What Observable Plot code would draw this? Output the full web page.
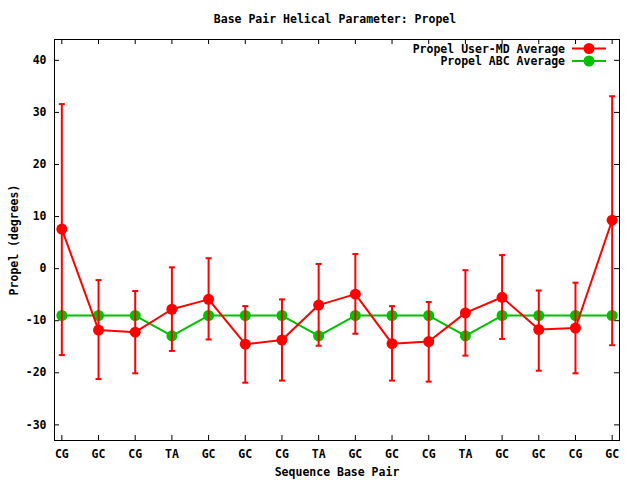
<!DOCTYPE html>
<html>
<head>
<meta charset="utf-8">
<script src="https://cdn.jsdelivr.net/npm/d3@7"></script>
<script src="https://cdn.jsdelivr.net/npm/@observablehq/plot@0.6"></script>
<style>
  html, body { margin: 0; padding: 0; background: #fff; }
  #chart { width: 640px; height: 480px; }
</style>
</head>
<body>
<div id="chart"></div>
<script>
const basePairs = ["CG","GC","CG","TA","GC","GC","CG","TA","GC","GC","CG","TA","GC","GC","CG","GC"];
const userMean = [7.6, -11.8, -12.2, -7.8, -5.9, -14.5, -13.7, -7.0, -4.9, -14.4, -14.0, -8.5, -5.5, -11.7, -11.4, 9.3];
const userHigh = [31.6, -2.2, -4.3, 0.25, 2.0, -7.2, -5.9, 0.9, 2.8, -7.2, -6.4, -0.3, 2.6, -4.2, -2.7, 33.1];
const userLow  = [-16.6, -21.2, -20.1, -15.8, -13.6, -21.9, -21.5, -14.8, -12.5, -21.5, -21.7, -16.7, -13.5, -19.6, -20.1, -14.7];
const abcMean  = [-9, -9, -9, -12.9, -9, -9, -9, -12.9, -9, -9, -9, -12.9, -9, -9, -9, -9];
const yTicks = [-30, -20, -10, 0, 10, 20, 30, 40];
const seriesNames = ["Propel User-MD Average", "Propel ABC Average"];
const seriesColors = ["#ff0000", "#00c000"];

const user = basePairs.map((bp, i) => ({i, bp, y: userMean[i], hi: userHigh[i], lo: userLow[i]}));
const abc = basePairs.map((bp, i) => ({i, bp, y: abcMean[i]}));
const xIdx = basePairs.map((_, i) => i);

const xMin = -0.2, xMax = 15.2, yMin = -33, yMax = 44;
const font = "'DejaVu Sans Mono', monospace";
const W = 640, H = 480, mL = 54, mR = 21, mT = 39, mB = 40;
const pxX = (xMax - xMin) / (W - mL - mR);
const pxY = (yMax - yMin) / (H - mT - mB);
const tk = 5;

const chart = Plot.plot({
  width: W, height: H,
  marginLeft: mL, marginRight: mR, marginTop: mT, marginBottom: mB,
  style: {fontFamily: font, fontSize: "11.5px", fontWeight: "bold", background: "#fff", color: "#000"},
  x: {domain: [xMin, xMax], axis: null},
  y: {domain: [yMin, yMax], axis: null},
  marks: [
    Plot.frame({stroke: "#000", strokeWidth: 1}),
    // inward ticks
    Plot.ruleY(yTicks, {y: d => d, x1: xMin, x2: xMin + tk * pxX, stroke: "#000"}),
    Plot.ruleY(yTicks, {y: d => d, x1: xMax - tk * pxX, x2: xMax, stroke: "#000"}),
    Plot.ruleX(xIdx, {x: d => d, y1: yMin, y2: yMin + tk * pxY, stroke: "#000"}),
    Plot.ruleX(xIdx, {x: d => d, y1: yMax - tk * pxY, y2: yMax, stroke: "#000"}),
    // tick labels
    Plot.text(yTicks, {x: xMin, y: d => d, text: d => String(d), textAnchor: "end", dx: -8, fill: "#000"}),
    Plot.text(user, {x: "i", y: yMin, text: "bp", dy: 14, fill: "#000"}),
    // ABC series
    Plot.line(abc, {x: "i", y: "y", stroke: seriesColors[1], strokeWidth: 2}),
    Plot.dot(abc, {x: "i", y: "y", r: 5.5, fill: seriesColors[1], stroke: "none"}),
    // User-MD error bars
    Plot.ruleX(user, {x: "i", y1: "lo", y2: "hi", stroke: seriesColors[0], strokeWidth: 2}),
    Plot.link(user, {x1: d => d.i - 3 * pxX, x2: d => d.i + 3 * pxX, y1: "hi", y2: "hi", stroke: seriesColors[0], strokeWidth: 2}),
    Plot.link(user, {x1: d => d.i - 3 * pxX, x2: d => d.i + 3 * pxX, y1: "lo", y2: "lo", stroke: seriesColors[0], strokeWidth: 2}),
    Plot.line(user, {x: "i", y: "y", stroke: seriesColors[0], strokeWidth: 2}),
    Plot.dot(user, {x: "i", y: "y", r: 5.5, fill: seriesColors[0], stroke: "none"}),
    // titles
    Plot.text(["Base Pair Helical Parameter: Propel"], {frameAnchor: "top", dy: -20, fill: "#000", x: null}),
  ]
});

const svg = d3.select(chart);
svg.attr("overflow", "visible");
// Title (absolute)
svg.selectAll("text").filter(function() { return this.textContent === "Base Pair Helical Parameter: Propel"; }).remove();
svg.append("text").attr("x", 335).attr("y", 23).attr("text-anchor", "middle")
  .attr("font-family", font).attr("font-size", "11.5px").attr("font-weight", "bold").text("Base Pair Helical Parameter: Propel");
svg.append("text").attr("x", 337).attr("y", 476).attr("text-anchor", "middle")
  .attr("font-family", font).attr("font-size", "11.5px").attr("font-weight", "bold").text("Sequence Base Pair");
svg.append("text").attr("transform", "translate(18,240) rotate(-90)").attr("text-anchor", "middle")
  .attr("font-family", font).attr("font-size", "11.5px").attr("font-weight", "bold").text("Propel (degrees)");
// Legend
seriesNames.forEach((name, k) => {
  const yy = 48.5 + k * 12.5;
  svg.append("text").attr("x", 565).attr("y", yy + 4).attr("text-anchor", "end")
    .attr("font-family", font).attr("font-size", "11.5px").attr("font-weight", "bold").text(name);
  svg.append("line").attr("x1", 572).attr("x2", 606).attr("y1", yy).attr("y2", yy)
    .attr("stroke", seriesColors[k]).attr("stroke-width", 2);
  svg.append("circle").attr("cx", 589).attr("cy", yy).attr("r", 5.5).attr("fill", seriesColors[k]);
});

document.getElementById("chart").appendChild(chart);
</script>
</body>
</html>
